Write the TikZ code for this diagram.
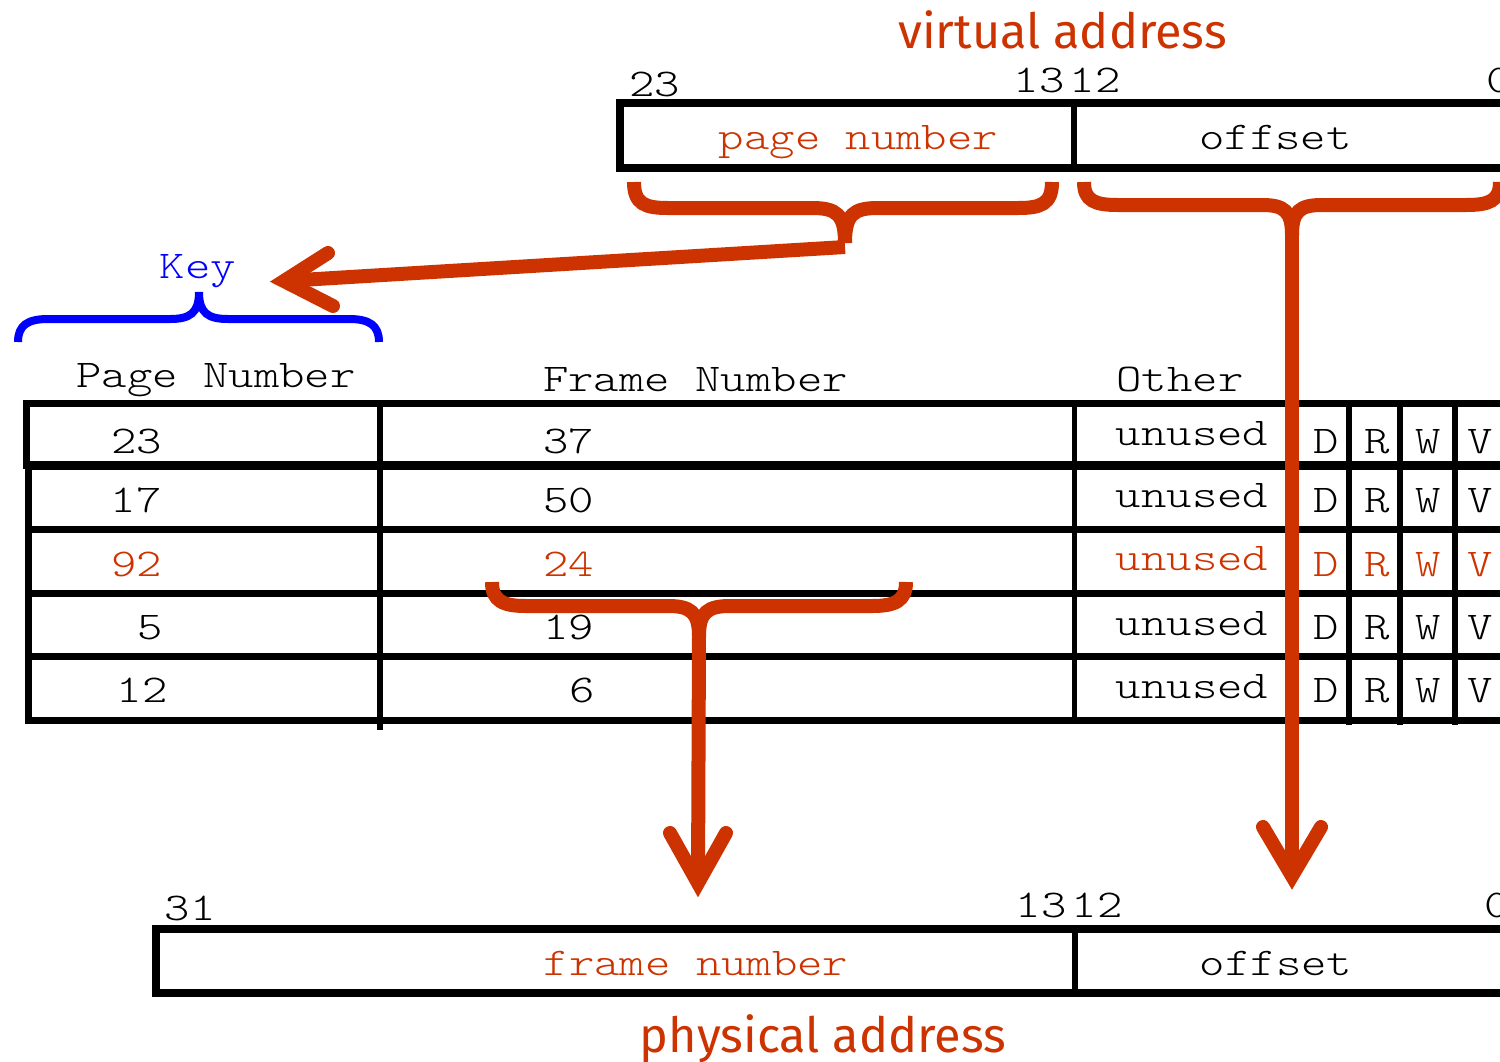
\documentclass[tikz,border=0pt]{standalone}
\usepackage{fontspec}
\usetikzlibrary{calc}
\newfontfamily\courlt{lmmonolt10-regular.otf}[FakeStretch=1.23]
\newfontfamily\handfont{Fira Sans}
\definecolor{addr}{HTML}{CC3300}
\definecolor{keyblue}{HTML}{0000FF}
\tikzset{
  mono/.style={font=\courlt\fontsize{19.65}{22}\selectfont, inner sep=0pt, anchor=base},
  hot/.style={text=addr},
  addrtitle/.style={font=\handfont\fontsize{24.3}{28}\selectfont, text=addr, inner sep=0pt, anchor=base},
  boxline/.style={line width=4pt},
  gridline/.style={line width=3.5pt},
  thinrule/.style={line width=2.6pt},
  redline/.style={draw=addr, line width=7pt},
  bracepath/.style={draw=addr, line width=7pt},
  keybrace/.style={draw=keyblue, line width=4pt},
  barb/.style={draw=addr, line width=7pt, line cap=round, line join=miter},
}
\begin{document}
\begin{tikzpicture}[x=0.5pt, y=-0.5pt]
\useasboundingbox (0,0) rectangle (1500,1061);
\clip (0,0) rectangle (1500,1061);

% ---- virtual address ----
\node[addrtitle] (va) at (1062.5,48) {virtual address};
\draw[boxline] (620,103) rectangle (1540,167.5);
\draw[thinrule] (1074,103) -- (1074,167.5);
\node[mono] (v23) at (654.5,96) {23};
\node[mono] (v13) at (1039,92) {13};
\node[mono] (v12) at (1095,92) {12};
\node[mono] (v0)  at (1499,92) {0};
\node[mono,hot] (vpn) at (858.5,149) {page number};
\node[mono] (voff) at (1275.5,149) {offset};

% ---- physical address ----
\node[addrtitle] (pa) at (823,1052) {physical address};
\draw[boxline] (156,928.5) rectangle (1540,992.5);
\draw[thinrule] (1075,928.5) -- (1075,992.5);
\node[mono] (p31) at (190,920) {31};
\node[mono] (p13) at (1041,917) {13};
\node[mono] (p12) at (1097,917) {12};
\node[mono] (p0)  at (1497,917) {0};
\node[mono,hot] (pfn) at (696,975) {frame number};
\node[mono] (poff) at (1276,975) {offset};

% ---- page table ----
\node[mono] (hpage)  at (216,387)   {Page Number};
\node[mono] (hframe) at (695.5,391) {Frame Number};
\node[mono] (hother) at (1180,391)  {Other};

\draw[gridline] (26.5,403) rectangle (1540,465.5);
\draw[gridline] (28.5,465.5) rectangle (1540,720);
\draw[line width=4.5pt] (26,465.5) -- (1540,465.5);
\foreach \y in {529,593,656}
  \draw[gridline] (28.5,\y) -- (1540,\y);
\draw[thinrule] (380,403) -- (380,730);
\draw[thinrule] (1074.5,403) -- (1074.5,720);
\draw[thinrule] (1292,403) -- (1292,720);
\foreach \x in {1349,1400,1455}
  \draw[thinrule] (\x,403) -- (\x,725);

\foreach \i/\y/\uy/\c/\pg/\px/\fr/\fx in {
    1/453/445/black/23/136.5/37/568.5,
    2/512/507/black/17/136/50/568.5,
    3/576/570/addr/92/136.5/24/568.5,
    4/639/635/black/5/150/19/568.5,
    5/702/698/black/12/142/6/582}{
  \node[mono,text=\c] (pg\i) at (\px,\y) {\pg};
  \node[mono,text=\c] (fr\i) at (\fx,\y) {\fr};
  \node[mono,text=\c] (un\i) at (1192,\uy) {unused};
  \node[mono,text=\c] (bd\i) at (1326,\y) {D};
  \node[mono,text=\c] (br\i) at (1377.5,\y) {R};
  \node[mono,text=\c] (bw\i) at (1428.5,\y) {W};
  \node[mono,text=\c] (bv\i) at (1480,\y) {V};
}

% ---- key brace ----
\node[mono,text=keyblue] (key) at (198,278) {Key};
\coordinate (keyL) at (18,342);
\coordinate (keyR) at (379,342);
\coordinate (keyTip) at (199,292);
\draw[keybrace] (keyL) .. controls (18,325) and (28,319) .. (48,319) -- (170,319)
  .. controls (190,319) and (199,313) .. (keyTip);
\draw[keybrace] (keyR) .. controls (379,325) and (369,319) .. (349,319) -- (228,319)
  .. controls (208,319) and (199,313) .. (keyTip);

% ---- page number brace and arrow to the key ----
\coordinate (pnL) at (634,182);
\coordinate (pnR) at (1052,182);
\coordinate (pnTip) at (845,243);
\draw[bracepath] (pnL) .. controls (634,204) and (645,208) .. (668,208) -- (812,208)
  .. controls (836,208) and (845,214) .. (pnTip);
\draw[bracepath] (pnR) .. controls (1052,204) and (1041,208) .. (1018,208) -- (878,208)
  .. controls (854,208) and (845,214) .. (pnTip);
\coordinate (pnFoot) at (845,247);
\coordinate (keyArrow) at (284,281);
\draw[redline] (pnFoot) -- (keyArrow);
\draw[barb] ($(keyArrow)+(44,-28)$) -- (keyArrow) -- ($(keyArrow)+(49,25)$);

% ---- offset brace and arrow ----
\coordinate (ofL) at (1084,182);
\coordinate (ofR) at (1500,182);
\coordinate (ofTip) at (1292,235);
\draw[bracepath] (ofL) .. controls (1084,201) and (1095,205) .. (1118,205) -- (1262,205)
  .. controls (1284,205) and (1292,211) .. (ofTip);
\draw[bracepath] (ofR) .. controls (1500,201) and (1489,205) .. (1466,205) -- (1322,205)
  .. controls (1300,205) and (1292,211) .. (ofTip);
\coordinate (ofArrow) at (1292,876);
\draw[redline] (ofTip) -- (ofArrow);
\draw[barb] ($(ofArrow)+(-29,-49)$) -- (ofArrow) -- ($(ofArrow)+(29,-49)$);

% ---- frame number brace and arrow ----
\coordinate (fnL) at (492,582);
\coordinate (fnR) at (906,582);
\coordinate (fnTip) at (699,636);
\draw[bracepath] (fnL) .. controls (492,601) and (503,606) .. (526,606) -- (668,606)
  .. controls (690,606) and (699,612) .. (fnTip);
\draw[bracepath] (fnR) .. controls (906,601) and (895,606) .. (872,606) -- (730,606)
  .. controls (708,606) and (699,612) .. (fnTip);
\coordinate (fnArrow) at (698,883);
\draw[redline] (fnTip) -- (fnArrow);
\draw[barb] ($(fnArrow)+(-28,-50)$) -- (fnArrow) -- ($(fnArrow)+(28,-50)$);
\end{tikzpicture}
\end{document}
